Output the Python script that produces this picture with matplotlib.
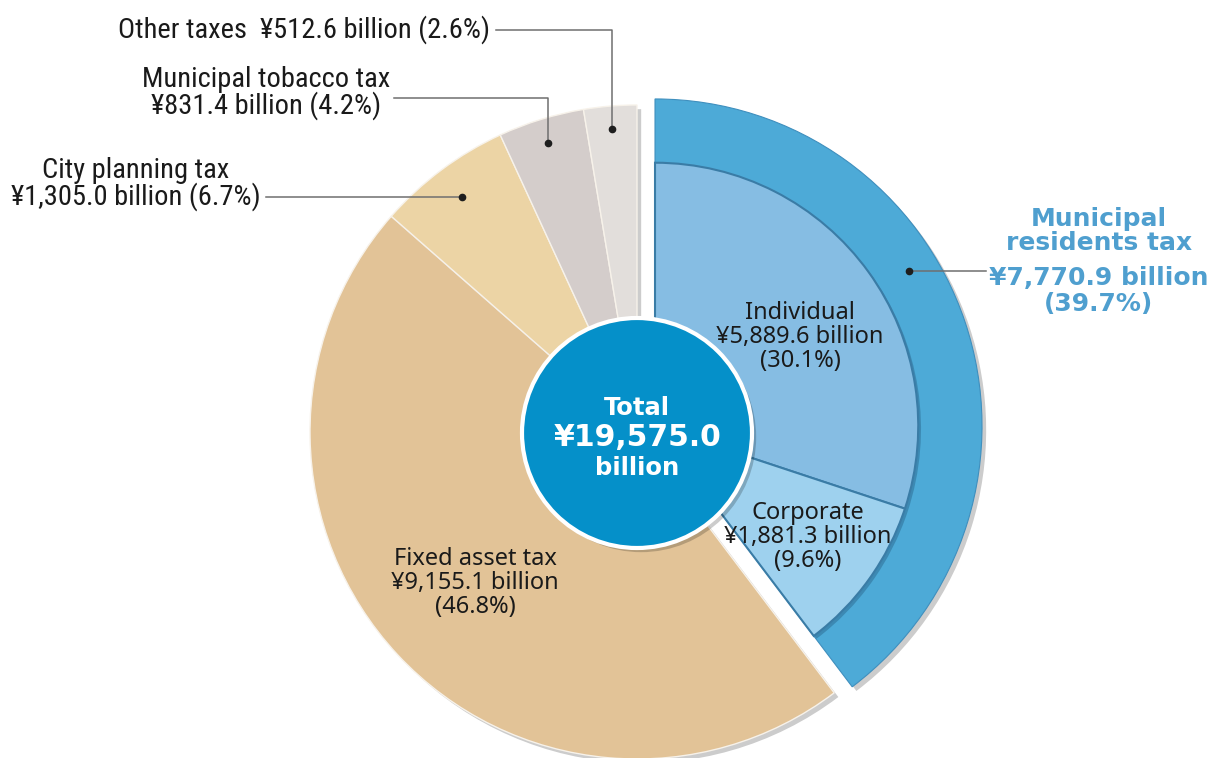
import numpy as np
import matplotlib
matplotlib.use("Agg")
import matplotlib.pyplot as plt
import matplotlib.patheffects as pe
from matplotlib.patches import Circle

# municipal tax revenue, billions of yen
categories = ["Municipal residents tax", "Fixed asset tax", "City planning tax",
              "Municipal tobacco tax", "Other taxes"]
amounts = [7770.9, 9155.1, 1305.0, 831.4, 512.6]
shares = [39.7, 46.8, 6.7, 4.2, 2.6]

resident_parts = ["Individual", "Corporate"]
resident_amounts = [5889.6, 1881.3]
resident_shares = [30.1, 9.6]

total = 19575.0

slice_colors = ["#4daad7", "#e2c397", "#ecd4a5", "#d4cdcb", "#e2dedb"]
part_colors = ["#86bde3", "#9ed1ee"]

W, H = 1214, 758
fig = plt.figure(figsize=(W / 100, H / 100), dpi=100)
ax = fig.add_axes([0, 0, 1, 1])


def reset_axes():
    ax.set_xlim(0, W)
    ax.set_ylim(H, 0)      # pixel-style coords, y grows downward
    ax.set_aspect("equal")
    ax.axis("off")


cx, cy, R = 637, 432, 327
shadow = [pe.SimplePatchShadow(offset=(3, -3), shadow_rgbFace="k", alpha=0.2), pe.Normal()]

# y axis is inverted, so counterclock=True runs clockwise on screen and -90 is 12 o'clock;
# explode is in data units here (pixels)
wedges, _ = ax.pie(amounts, colors=slice_colors, startangle=-90, counterclock=True,
                   radius=R, center=(cx, cy), explode=[19, 0, 0, 0, 0],
                   wedgeprops=dict(edgecolor="#f7f2ea", linewidth=1.0), frame=True)
for w in wedges:
    w.set_path_effects(shadow)
wedges[0].set_edgecolor("#3f8fbe")
wedges[0].set_linewidth(0.8)

# residents tax split into individual / corporate, on the exploded centre
ex, ey = wedges[0].center
inner, _ = ax.pie(resident_amounts + [total - sum(resident_amounts)],
                  colors=part_colors + ["none"], startangle=-90, counterclock=True,
                  radius=R * 0.805, center=(ex, ey), frame=True,
                  wedgeprops=dict(edgecolor="#3a7ca6", linewidth=1.5))
inner[-1].set_visible(False)
for w in inner[:2]:
    w.set_path_effects([pe.SimplePatchShadow(offset=(2, -2), shadow_rgbFace="#1d4e70", alpha=0.35),
                        pe.Normal()])
reset_axes()

# centre disc
ax.add_patch(Circle((cx, cy + 1), 115, facecolor="#0590c9", edgecolor="white", linewidth=3,
                    zorder=5, path_effects=shadow))
ax.text(cx, cy - 24, "Total", ha="center", va="center", color="white",
        fontsize=17.5, fontweight="bold", zorder=6)
ax.text(cx, cy + 6, f"¥{total:,.1f}", ha="center", va="center", color="white",
        fontsize=21.5, fontweight="bold", zorder=6)
ax.text(cx, cy + 36, "billion", ha="center", va="center", color="white",
        fontsize=17.5, fontweight="bold", zorder=6)

body = dict(ha="center", va="center", color="#1a1a1a", fontsize=17,
            family=["Noto Sans", "DejaVu Sans"], linespacing=1.02, zorder=6)
ax.text(800, 337, f"{resident_parts[0]}\n¥{resident_amounts[0]:,.1f} billion\n({resident_shares[0]}%)", **body)
ax.text(808, 537, f"{resident_parts[1]}\n¥{resident_amounts[1]:,.1f} billion\n({resident_shares[1]}%)", **body)
ax.text(475, 583, f"{categories[1]}\n¥{amounts[1]:,.1f} billion\n({shares[1]}%)", **body)


def anchor(w, frac, r):
    """Point inside a wedge: frac of the way through its angle span, at radius r."""
    a = np.deg2rad(w.theta1 + frac * (w.theta2 - w.theta1))
    x0, y0 = w.center
    return x0 + r * np.cos(a), y0 + r * np.sin(a)


line_kw = dict(color="#6f6f6f", linewidth=1.1, zorder=7)
dot_kw = dict(marker="o", markersize=4.5, color="#1e1e1e", zorder=8)
narrow = dict(family=["Liberation Sans Narrow", "Roboto Condensed", "Roboto", "DejaVu Sans"],
              fontsize=20.5, color="#1a1a1a", linespacing=0.92)

# other taxes
dx, dy = anchor(wedges[4], 0.5, 304)
ax.plot([496, dx, dx], [30, 30, dy], **line_kw)
ax.plot(dx, dy, **dot_kw)
ax.text(490, 30, f"{categories[4]}  ¥{amounts[4]:,.1f} billion ({shares[4]}%)",
        ha="right", va="center", **narrow)

# tobacco
dx, dy = anchor(wedges[3], 0.5, 302)
ax.plot([394, dx, dx], [98, 98, dy], **line_kw)
ax.plot(dx, dy, **dot_kw)
ax.text(266, 93, f"{categories[3]}\n¥{amounts[3]:,.1f} billion ({shares[3]}%)",
        ha="center", va="center", **narrow)

# city planning
dx, dy = anchor(wedges[2], 0.5, 293)
ax.plot([266, dx], [dy, dy], **line_kw)
ax.plot(dx, dy, **dot_kw)
ax.text(136, dy - 13, f"{categories[2]}\n¥{amounts[2]:,.1f} billion ({shares[2]}%)",
        ha="center", va="center", **narrow)

# residents tax
dx, dy = anchor(wedges[0], 0.41, 297)
ax.plot([dx, 986], [dy, dy], **line_kw)
ax.plot(dx, dy, **dot_kw)
blue = dict(ha="center", va="center", color="#4f9fcf", fontsize=18, fontweight="bold")
ax.text(1099, 231, "Municipal\nresidents tax", linespacing=0.95, **blue)
ax.text(1099, 291, f"¥{amounts[0]:,.1f} billion\n({shares[0]}%)", linespacing=1.15, **blue)

fig.savefig("out.png", dpi=100, facecolor="white")
